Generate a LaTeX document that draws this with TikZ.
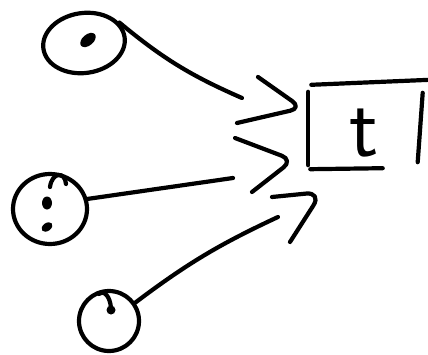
\documentclass[tikz,border=0pt]{standalone}
\usetikzlibrary{shapes.geometric}

\begin{document}
\begin{tikzpicture}[
    x=1pt, y=1pt,
    pen/.style={line width=4.2pt, line cap=round, line join=round},
    blob/.style={draw, ellipse, line width=4.2pt, inner sep=0pt},
    dot/.style={fill, ellipse, inner sep=0pt},
    chevron/.style={pen, rounded corners=12pt}
]
    \useasboundingbox (0,0) rectangle (428,354);

    % three round sources
    \node[blob, minimum width=82pt, minimum height=60pt, rotate=8] (c1) at (84,311) {};
    \node[blob, minimum width=74pt, minimum height=70pt] (c2) at (50,145) {};
    \node[blob, minimum width=60pt, minimum height=60pt] (c3) at (109,33) {};
    \node[dot, minimum width=18pt, minimum height=11pt, rotate=40] (d1) at (88,314) {};
    \node[dot, minimum width=10pt, minimum height=13pt] (d2) at (47,151) {};
    \node[dot, minimum width=12pt, minimum height=8pt, rotate=35] (d3) at (47,127) {};
    \node[dot, minimum width=9pt, minimum height=9pt] (d4) at (111,44) {};
    \draw[pen] (50,167) .. controls (52,182) and (65,183) .. (66,170);
    \draw[pen] (99,60) .. controls (104,64) and (110,58) .. (111,46);

    % target box
    \node[minimum width=111pt, minimum height=86pt, text height=62pt,
          font=\sffamily\fontsize{86}{86}\selectfont] (box) at (364,228) {t};
    \draw[pen] ([yshift=-9pt]box.north west) -- ([yshift=4pt]box.south west);
    \draw[pen] ([shift={(3pt,-2pt)}]box.north west) -- ([shift={(10pt,3pt)}]box.north east);
    \draw[pen] ([xshift=2pt]box.south west) -- ([shift={(-37pt,1pt)}]box.south east);
    \draw[pen] ([shift={(3pt,-10pt)}]box.north east) -- ([shift={(-2pt,7pt)}]box.south east);

    % lines in
    \coordinate (e1) at (242,256);
    \coordinate (e2) at (233,176);
    \coordinate (e3) at (278,137);
    \draw[pen] (c1.22) to[bend right=8] (e1);
    \draw[pen] (c2.15) -- (e2);
    \draw[pen] (c3.35) to[bend left=6] (e3);

    % heads
    \draw[chevron] (258,277) -- (302,246) -- (237,231);
    \draw[chevron] (235,216) -- (293,194) -- (252,162);
    \draw[chevron, rounded corners=16pt] (272,157) -- (322,162) -- (290,112);
\end{tikzpicture}
\end{document}
